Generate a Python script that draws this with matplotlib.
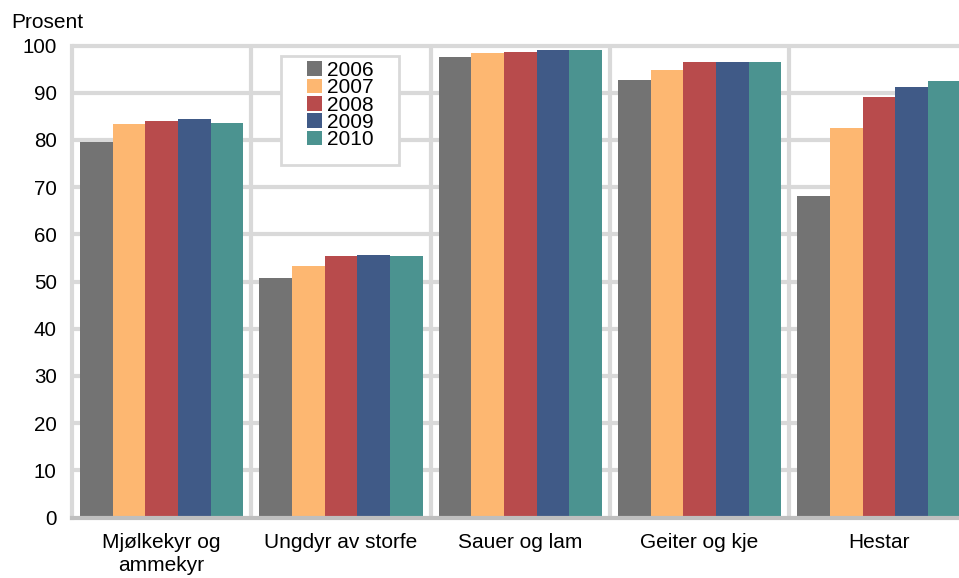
import matplotlib
matplotlib.use('Agg')
import matplotlib.pyplot as plt
import numpy as np
from matplotlib.patches import Rectangle

plt.rcParams['font.family'] = ['Liberation Sans', 'DejaVu Sans']

categories = ['Mjølkekyr og\nammekyr', 'Ungdyr av storfe', 'Sauer og lam', 'Geiter og kje', 'Hestar']
years = ['2006', '2007', '2008', '2009', '2010']
v2006 = [79.6, 50.7, 97.5, 92.6, 68.2]
v2007 = [83.4, 53.3, 98.4, 94.9, 82.6]
v2008 = [84.0, 55.3, 98.6, 96.6, 89.0]
v2009 = [84.4, 55.7, 99.0, 96.6, 91.3]
v2010 = [83.6, 55.5, 99.0, 96.6, 92.4]
colors = ['#737373', '#fdb771', '#b84b4c', '#405a87', '#4b9390']
series = [v2006, v2007, v2008, v2009, v2010]

W, H = 959, 578
fig = plt.figure(figsize=(W / 100, H / 100), dpi=100)
# y: 0 at 517.5px, 101 at 40.8px ; x: -0.5 at 72px, 4.5 at 968.6px
ax = fig.add_axes([72 / W, 1 - 517.5 / H, 896.6 / W, (517.5 - 40.8) / H])

grid_c = '#d9d9d9'
x = np.arange(len(categories))
bw = 0.182
for i, (vals, c) in enumerate(zip(series, colors)):
    ax.bar(x + (i - 2) * bw, vals, width=bw, color=c, label=years[i], zorder=3)

ax.set_xlim(-0.5, 4.5)
ax.set_ylim(0, 101)
ax.set_yticks(range(0, 101, 10))
ax.set_xticks(x)
ax.set_xticklabels(categories, fontsize=15, linespacing=1.3)
ax.tick_params(axis='y', length=0, pad=11, labelsize=14.8)
ax.tick_params(axis='x', length=0, pad=11)

for yv in range(10, 101, 10):
    ax.axhline(yv, color=grid_c, lw=3, zorder=1)
ax.vlines(np.arange(0.5, 5, 1), 0, 100, color=grid_c, lw=3, zorder=1)

for s in ['top', 'right']:
    ax.spines[s].set_visible(False)
ax.spines['left'].set_color(grid_c)
ax.spines['left'].set_linewidth(3)
ax.spines['left'].set_bounds(0, 100)
ax.spines['bottom'].set_color('#bfbfbf')
ax.spines['bottom'].set_linewidth(3)
ax.spines['bottom'].set_zorder(4)

fig.text(11 / W, 1 - 28.3 / H, 'Prosent', fontsize=15, va='baseline', ha='left')

# legend box
box = Rectangle((281 / W, 1 - 165 / H), 118 / W, 109 / H, transform=fig.transFigure,
                facecolor='white', edgecolor=grid_c, lw=2, zorder=5)
fig.patches.append(box)
leg = fig.legend(loc='upper left', bbox_to_anchor=(307 / W, 1 - 61 / H), frameon=False,
                 fontsize=15, handlelength=0.7, handleheight=0.7, handletextpad=0.25,
                 labelspacing=-0.08, borderpad=0, borderaxespad=0)
leg.set_zorder(6)

fig.savefig('out.png', dpi=100)
